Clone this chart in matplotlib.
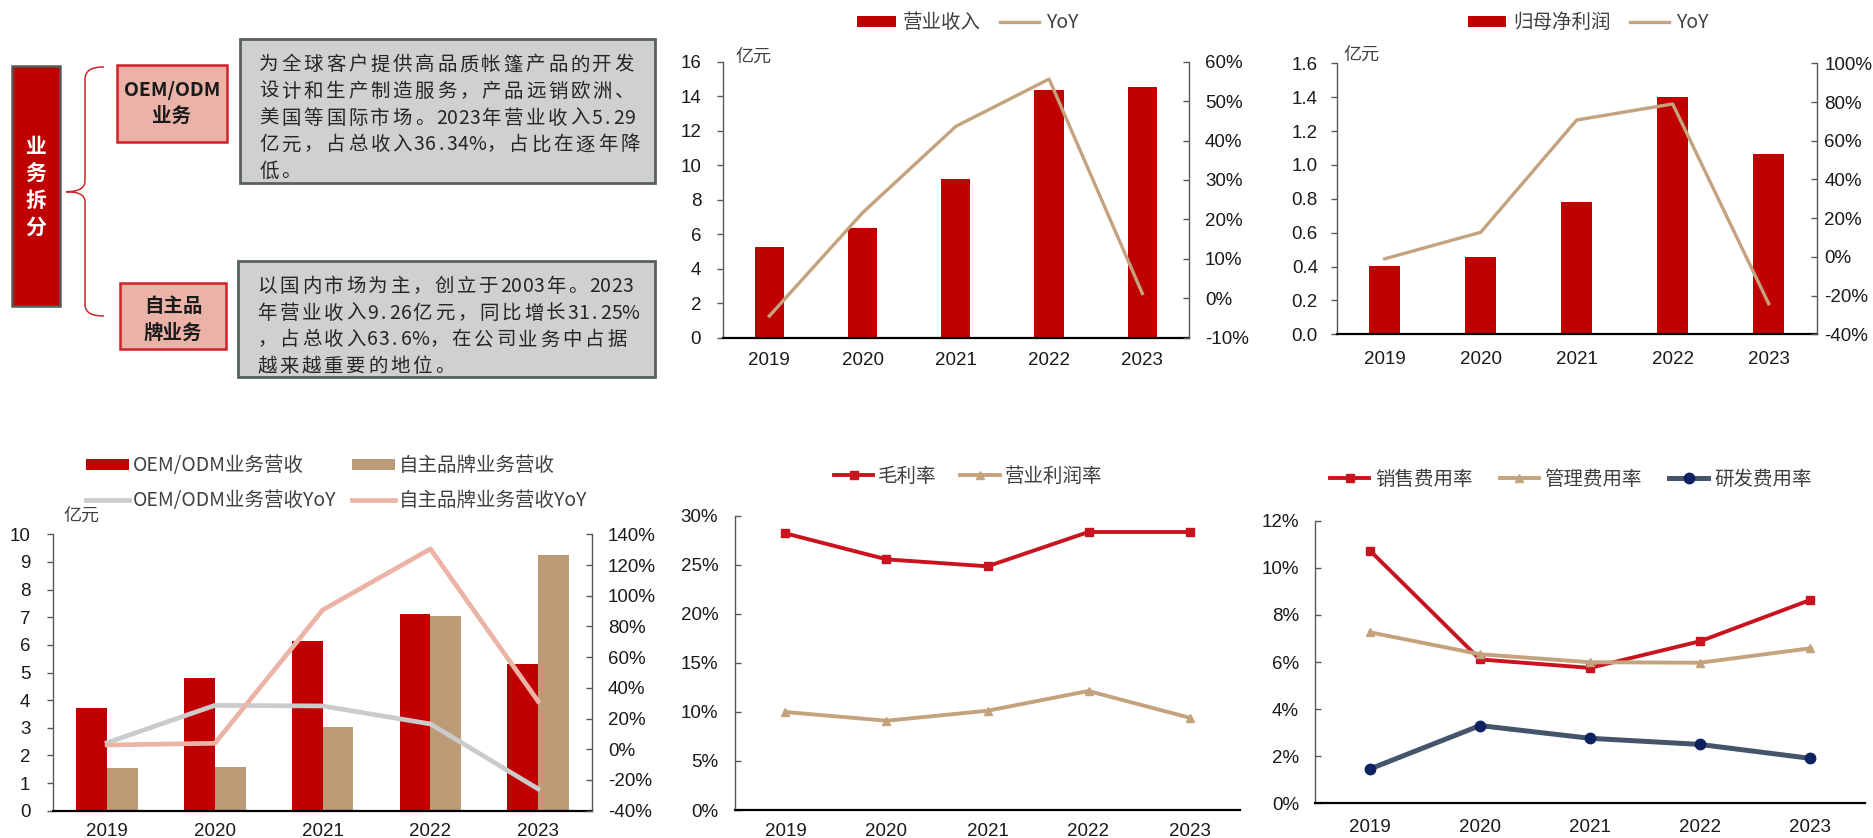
import matplotlib
matplotlib.use("Agg")
import matplotlib.pyplot as plt
from matplotlib.patches import Rectangle, PathPatch
from matplotlib.path import Path
from matplotlib.ticker import FuncFormatter, MultipleLocator
from matplotlib.font_manager import FontProperties
import numpy as np

# ---------------- data ----------------
years = ['2019', '2020', '2021', '2022', '2023']

revenue = [5.24, 6.38, 9.18, 14.36, 14.56]          # 亿元
revenue_yoy = [-4.5, 21.7, 43.6, 55.6, 1.2]          # %
net_profit = [0.405, 0.456, 0.783, 1.403, 1.065]     # 亿元
net_profit_yoy = [-1.0, 12.7, 70.7, 79.0, -24.2]     # %

oem_rev = [3.73, 4.79, 6.13, 7.13, 5.29]
brand_rev = [1.56, 1.59, 3.04, 7.05, 9.26]
oem_yoy = [4.3, 28.6, 28.2, 16.5, -25.8]
brand_yoy = [2.8, 3.9, 90.7, 130.5, 31.25]

gross_margin = [28.2, 25.55, 24.84, 28.34, 28.34]
op_margin = [9.99, 9.1, 10.12, 12.13, 9.41]

selling_rate = [10.73, 6.11, 5.75, 6.88, 8.63]
admin_rate = [7.26, 6.33, 5.99, 5.97, 6.58]
rd_rate = [1.46, 3.30, 2.76, 2.50, 1.91]

oem_desc = ["为全球客户提供高品质帐篷产品的开发",
            "设计和生产制造服务，产品远销欧洲、",
            "美国等国际市场。2023年营业收入5.29",
            "亿元，占总收入36.34%，占比在逐年降",
            "低。"]
brand_desc = ["以国内市场为主，创立于2003年。2023",
              "年营业收入9.26亿元，同比增长31.25%",
              "，占总收入63.6%，在公司业务中占据",
              "越来越重要的地位。"]

# ---------------- style ----------------
W, H, DPI = 1874, 838, 100
RED = '#C00000'
TAN_BAR = '#BC9A75'
TAN_LINE = '#C4A27D'
LINE_RED = '#C9141F'
GRAY_LINE = '#CBCBCB'
PINK_LINE = '#ECB4A6'
NAVY_LINE = '#44546A'
NAVY_MARK = '#0E2161'
TICK_C = '#1A1A1A'
SPINE_C = '#595959'
LEG_C = '#404040'
CJK = 'Noto Sans CJK SC'

plt.rcParams['font.family'] = ['Liberation Sans', CJK]
cjk_leg = FontProperties(family=CJK, size=14)

fig = plt.figure(figsize=(W / DPI, H / DPI), dpi=DPI)
fig.patch.set_facecolor('white')


def px_axes(x0, y0, x1, y1):
    return fig.add_axes([x0 / W, 1 - y1 / H, (x1 - x0) / W, (y1 - y0) / H])


def pct(v, _):
    return f"{v:.0f}%"


def style_common(ax, left_pad, left_dir, x_pad):
    for s in ('top', 'right'):
        ax.spines[s].set_visible(False)
    ax.spines['left'].set_color(SPINE_C)
    ax.spines['left'].set_linewidth(1.0)
    ax.spines['bottom'].set_color('#000000')
    ax.spines['bottom'].set_linewidth(1.6)
    ax.tick_params(axis='y', direction=left_dir, length=4, width=1,
                   color=SPINE_C, labelsize=13.5, labelcolor=TICK_C, pad=left_pad)
    ax.tick_params(axis='x', length=0, labelsize=13.5, labelcolor=TICK_C, pad=x_pad)
    ax.set_xlim(-0.5, 4.5)
    ax.set_xticks(np.arange(len(years)), years)


def style_right(ax2, pad):
    for s in ('top', 'left', 'bottom'):
        ax2.spines[s].set_visible(False)
    ax2.spines['right'].set_color(SPINE_C)
    ax2.spines['right'].set_linewidth(1.0)
    ax2.tick_params(axis='y', direction='in', length=4, width=1,
                    color=SPINE_C, labelsize=13.5, labelcolor=TICK_C, pad=pad)
    ax2.yaxis.set_major_formatter(FuncFormatter(pct))


def legend_at(ax, handles, labels, cx, cy, ncol, **kw):
    leg = ax.legend(handles, labels, loc='center',
                    bbox_to_anchor=(cx / W, 1 - cy / H),
                    bbox_transform=fig.transFigure, ncol=ncol,
                    frameon=False, prop=cjk_leg, borderpad=0,
                    borderaxespad=0, labelcolor=LEG_C, **kw)
    return leg


def unit_label(x, y):
    fig.text(x / W, 1 - y / H, '亿元', ha='left', va='center',
             fontsize=13, color=LEG_C, family=CJK)


# ---------------- business breakdown diagram ----------------
ov = fig.add_axes([0, 0, 1, 1])
ov.set_xlim(0, W)
ov.set_ylim(H, 0)
ov.axis('off')
ov.patch.set_visible(False)

ov.add_patch(Rectangle((12, 66), 48, 240, fc=RED, ec=SPINE_C, lw=1.8))
for ch, yy in zip('业务拆分', [146.7, 173.3, 200.5, 227]):
    ov.text(36, yy, ch, ha='center', va='center', color='white',
            fontsize=15, fontweight='bold', family=CJK)

brace = Path([(104, 67), (92, 67), (85, 70), (85, 80),
              (85, 181),
              (85, 188), (79, 191.7), (66, 191.7),
              (79, 191.7), (85, 195), (85, 202),
              (85, 304),
              (85, 313), (92, 316), (104, 316)],
             [Path.MOVETO, Path.CURVE4, Path.CURVE4, Path.CURVE4,
              Path.LINETO,
              Path.CURVE4, Path.CURVE4, Path.CURVE4,
              Path.CURVE4, Path.CURVE4, Path.CURVE4,
              Path.LINETO,
              Path.CURVE4, Path.CURVE4, Path.CURVE4])
ov.add_patch(PathPatch(brace, fc='none', ec='#C8282E', lw=1.1))

PINK_FC, PINK_EC = '#EBB3A7', '#D3202A'
ov.add_patch(Rectangle((117.5, 65.5), 109.5, 76.5, fc=PINK_FC, ec=PINK_EC, lw=1.8))
ov.add_patch(Rectangle((120.5, 282.5), 105.5, 66, fc=PINK_FC, ec=PINK_EC, lw=1.8))
for txt, xx, yy in [('OEM/ODM', 172, 90), ('业务', 172, 116.5),
                    ('自主品', 173, 306.7), ('牌业务', 173, 333.3)]:
    ov.text(xx, yy, txt, ha='center', va='center', color='#1A1A1A',
            fontsize=14, fontweight='bold', family=CJK)

GRAY_FC, GRAY_EC = '#D0D0D0', '#57605F'
ov.add_patch(Rectangle((240, 39), 415, 144, fc=GRAY_FC, ec=GRAY_EC, lw=2))
ov.add_patch(Rectangle((238, 261), 417, 116, fc=GRAY_FC, ec=GRAY_EC, lw=2))


def mono_line(x, y, s, pitch=22.2, size=14):
    """Lay out a line on a fixed full/half-width grid."""
    cx = x
    base = y + 0.36 * size * DPI / 72
    for ch in s:
        if ord(ch) < 128:
            adv = pitch * (0.75 if ch == '%' else 0.5)
        else:
            adv = pitch
        ov.text(cx + adv / 2, base, ch, ha='center', va='baseline',
                fontsize=size, color='#262626', family=CJK)
        cx += adv


for i, line in enumerate(oem_desc):
    mono_line(258, 63.3 + i * 26.67, line)
for i, line in enumerate(brand_desc):
    mono_line(256, 285 + i * 26.67, line)

x = np.arange(len(years))

# ---------------- 营业收入 ----------------
ax = px_axes(722.7, 61.7, 1189, 337.7)
b_rev = ax.bar(x, revenue, width=0.314, color=RED)
style_common(ax, left_pad=11.5, left_dir='out', x_pad=10.5)
ax.set_ylim(0, 16)
ax.yaxis.set_major_locator(MultipleLocator(2))
ax2 = ax.twinx()
l_rev, = ax2.plot(x, revenue_yoy, color=TAN_LINE, lw=2.4)
ax2.set_ylim(-10, 60)
ax2.yaxis.set_major_locator(MultipleLocator(10))
style_right(ax2, pad=11.5)
unit_label(735, 56.7)
legend_at(ax2, [b_rev, l_rev], ['营业收入', 'YoY'], 968, 23, 2,
          handlelength=2.0, handleheight=0.5, handletextpad=0.35,
          columnspacing=1.0)

# ---------------- 归母净利润 ----------------
ax = px_axes(1336.7, 63.3, 1816.7, 334.3)
b_np = ax.bar(x, net_profit, width=0.32, color=RED)
style_common(ax, left_pad=9.5, left_dir='out', x_pad=12)
ax.set_ylim(0, 1.6)
ax.yaxis.set_major_locator(MultipleLocator(0.2))
ax.yaxis.set_major_formatter(FuncFormatter(lambda v, _: f"{v:.1f}"))
ax2 = ax.twinx()
l_np, = ax2.plot(x, net_profit_yoy, color=TAN_LINE, lw=2.4)
ax2.set_ylim(-40, 100)
ax2.yaxis.set_major_locator(MultipleLocator(20))
style_right(ax2, pad=5.5)
unit_label(1343, 55)
legend_at(ax2, [b_np, l_np], ['归母净利润', 'YoY'], 1588, 22.7, 2,
          handlelength=2.0, handleheight=0.5, handletextpad=0.35,
          columnspacing=1.0)

# ---------------- 分业务营收 ----------------
ax = px_axes(53.3, 534.3, 592, 810.7)
bw = 0.285
b_oem = ax.bar(x - bw / 2, oem_rev, width=bw, color=RED)
b_brand = ax.bar(x + bw / 2, brand_rev, width=bw, color=TAN_BAR)
style_common(ax, left_pad=12.5, left_dir='out', x_pad=9)
ax.set_ylim(0, 10)
ax.yaxis.set_major_locator(MultipleLocator(1))
ax2 = ax.twinx()
l_oem, = ax2.plot(x, oem_yoy, color=GRAY_LINE, lw=3.4)
l_brand, = ax2.plot(x, brand_yoy, color=PINK_LINE, lw=3.4)
ax2.set_ylim(-40, 140)
ax2.yaxis.set_major_locator(MultipleLocator(20))
style_right(ax2, pad=11.5)
unit_label(63, 516)
legend_at(ax2, [b_oem, l_oem, b_brand, l_brand],
          ['OEM/ODM业务营收', 'OEM/ODM业务营收YoY', '自主品牌业务营收', '自主品牌业务营收YoY'],
          336.5, 483, 2, handlelength=2.2, handleheight=0.5,
          handletextpad=0.2, columnspacing=0.8, labelspacing=0.7)

# ---------------- 毛利率 / 营业利润率 ----------------
ax = px_axes(735, 515.7, 1240, 810)
l_gm, = ax.plot(x, gross_margin, color=LINE_RED, lw=2.8, marker='s', ms=6)
l_om, = ax.plot(x, op_margin, color=TAN_LINE, lw=2.8, marker='^', ms=6)
style_common(ax, left_pad=12, left_dir='in', x_pad=9)
ax.set_ylim(0, 30)
ax.yaxis.set_major_locator(MultipleLocator(5))
ax.yaxis.set_major_formatter(FuncFormatter(pct))
legend_at(ax, [l_gm, l_om], ['毛利率', '营业利润率'], 968, 476, 2,
          handlelength=2.05, handletextpad=0.25, columnspacing=1.2)

# ---------------- 费用率 ----------------
ax = px_axes(1315, 520.7, 1865, 803.3)
l_s, = ax.plot(x, selling_rate, color=LINE_RED, lw=2.8, marker='s', ms=6)
l_a, = ax.plot(x, admin_rate, color=TAN_LINE, lw=2.8, marker='^', ms=6)
l_r, = ax.plot(x, rd_rate, color=NAVY_LINE, lw=3.6, marker='o', ms=7.5,
               mfc=NAVY_MARK, mec=NAVY_MARK)
style_common(ax, left_pad=11.5, left_dir='in', x_pad=11)
ax.set_ylim(0, 12)
ax.yaxis.set_major_locator(MultipleLocator(2))
ax.yaxis.set_major_formatter(FuncFormatter(pct))
legend_at(ax, [l_s, l_a, l_r], ['销售费用率', '管理费用率', '研发费用率'],
          1571, 479.3, 3, handlelength=2.0, handletextpad=0.3,
          columnspacing=1.4)

fig.savefig('out.png', dpi=DPI, facecolor='white')
